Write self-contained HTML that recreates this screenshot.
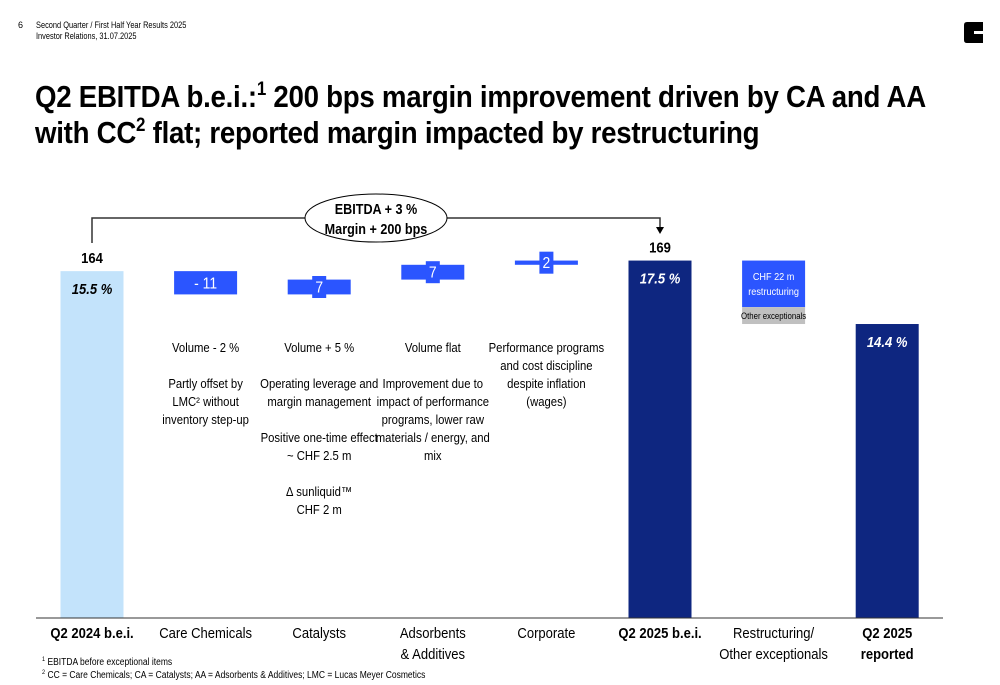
<!DOCTYPE html>
<html><head><meta charset="utf-8"><style>
body{margin:0;width:1000px;height:685px;background:#fff;font-family:"Liberation Sans",Arial,sans-serif;overflow:hidden;position:relative}
.t{position:absolute;white-space:nowrap}
.c{transform:scaleX(0.85);transform-origin:left top}
.sup{font-size:19px;position:relative;top:-12px;line-height:0}
</style></head><body>
<div class="t" style="left:18px;top:20px;font-size:9px">6</div>
<div class="t" style="left:36px;top:20px;font-size:9.5px;line-height:11px;transform:scaleX(0.78);transform-origin:left top">Second Quarter / First Half Year Results 2025<br>Investor Relations, 31.07.2025</div>
<svg class="t" style="left:964px;top:22px" width="20" height="22"><path d="M3 0H19V9H10V12H19V21H3Q0 21 0 18V3Q0 0 3 0Z" fill="#000"/></svg>
<div class="t" style="left:35px;top:79px;font-size:31px;font-weight:bold;line-height:36px;letter-spacing:-0.3px;transform:scaleX(0.892);transform-origin:left top">Q2 EBITDA b.e.i.:<span class="sup">1</span> 200 bps margin improvement driven by CA and AA<br>with CC<span class="sup">2</span> flat; reported margin impacted by restructuring</div>
<svg id="chart" class="t" style="left:0;top:0" width="1000" height="685"></svg>
<div class="t c" style="left:42px;top:656px;font-size:10px"><span style="font-size:6.5px;vertical-align:4px">1</span> EBITDA before exceptional items</div>
<div class="t c" style="left:42px;top:669px;font-size:10px"><span style="font-size:6.5px;vertical-align:4px">2</span> CC = Care Chemicals; CA = Catalysts; AA = Adsorbents &amp; Additives; LMC = Lucas Meyer Cosmetics</div>
<script>
const categories=["Q2 2024 b.e.i.","Care Chemicals","Catalysts","Adsorbents\n& Additives","Corporate","Q2 2025 b.e.i.","Restructuring/\nOther exceptionals","Q2 2025\nreported"];
const kinds=["total","delta","delta","delta","delta","total","split","total"];
const values=[164,-11,7,7,2,169,-30,139];
const valueLabels=["164","- 11","7","7","2","169","",""];
const margins=["15.5 %","","","","","17.5 %","","14.4 %"];
const splitParts=[22,8];
const splitLabels=["CHF 22 m\nrestructuring","Other exceptionals"];
const notes=["","Volume - 2 %\n\nPartly offset by\nLMC² without\ninventory step-up","Volume + 5 %\n\nOperating leverage and\nmargin management\n\nPositive one-time effect\n~ CHF 2.5 m\n\n∆ sunliquid™\nCHF 2 m","Volume flat\n\nImprovement due to\nimpact of performance\nprograms, lower raw\nmaterials / energy, and\nmix","Performance programs\nand cost discipline\ndespite inflation\n(wages)","","",""];
const svg=document.getElementById('chart');const NS="http://www.w3.org/2000/svg";
const base=618,k=2.115;const y=v=>base-v*k;const cx=i=>92+i*113.6;const bw=63;
function el(t,a,p){const e=document.createElementNS(NS,t);for(const n in a)e.setAttribute(n,a[n]);(p||svg).appendChild(e);return e;}
function txt(x,yy,s,a){const e=el('text',Object.assign({x:0,y:0,transform:`translate(${x},${yy}) scale(0.87,1)`,'text-anchor':'middle','font-family':'Liberation Sans, Arial, sans-serif'},a));e.textContent=s;return e;}
let run=0;
categories.forEach((c,i)=>{const x=cx(i)-bw/2;let g;
 if(kinds[i]==='total'){run=values[i];
  g=el('rect',{x:x,y:y(run),width:bw,height:run*k,fill:i===0?'#c3e3fb':'#0e2680'});
  
  const l=txt(cx(i),y(run)-8,valueLabels[i],{'font-size':15,'font-weight':'bold'});
  
  const m=txt(cx(i),y(run)+23,margins[i],{'font-size':15,'font-weight':'bold','font-style':'italic',fill:i===0?'#000':'#fff'});
  
 }else if(kinds[i]==='delta'){const a=run,b=run+values[i];run=b;
  const top=y(Math.max(a,b)),h=Math.max(Math.abs(values[i])*k,3);
  g=el('rect',{x:x,y:top,width:bw,height:h,fill:'#2b55ff'});
  
  const mid=top+h/2;
  if(h<22){const bx=el('rect',{x:cx(i)-7,y:mid-11,width:14,height:22,fill:'#2b55ff'});}
  const l=txt(cx(i),mid+5.5,valueLabels[i],{'font-size':16,fill:'#fff'});
  
 }else{let t=run;splitParts.forEach((p,j)=>{const r=el('rect',{x:x,y:y(t),width:bw,height:p*k,fill:j===0?'#2b55ff':'#c0c0c0'});
   
   const lines=splitLabels[j].split('\n');const mid=y(t)+p*k/2;
   lines.forEach((s,li)=>{const q=txt(cx(i),mid+(li-(lines.length-1)/2)*15+3.5,s,{'font-size':j===0?10.5:9,fill:j===0?'#fff':'#000'});});
   t-=p;});run+=values[i];}
 c.split('\n').forEach((s,li)=>{const q=txt(cx(i),638+li*21,s,{'font-size':15,'font-weight':kinds[i]==='total'?'bold':'normal'});});
 notes[i].split('\n').forEach((s,li)=>{if(!s)return;const q=txt(cx(i),352+li*18,s,{'font-size':13});});
});
const ax=el('line',{x1:36,x2:943,y1:base,y2:base,stroke:'#333','stroke-width':1});
const br=el('path',{d:`M${cx(0)} 243V218H${cx(5)}V228`,fill:'none',stroke:'#333','stroke-width':1.5});
const ar=el('path',{d:`M${cx(5)-4} 227L${cx(5)+4} 227L${cx(5)} 234Z`,fill:'#000'});
const ov=el('ellipse',{cx:376,cy:218,rx:71,ry:24,fill:'#fff',stroke:'#000','stroke-width':1});
const o1=txt(376,214,'EBITDA + 3 %',{'font-size':14.5,'font-weight':'bold'});
const o2=txt(376,234,'Margin + 200 bps',{'font-size':14.5,'font-weight':'bold'});
</script>
</body></html>
